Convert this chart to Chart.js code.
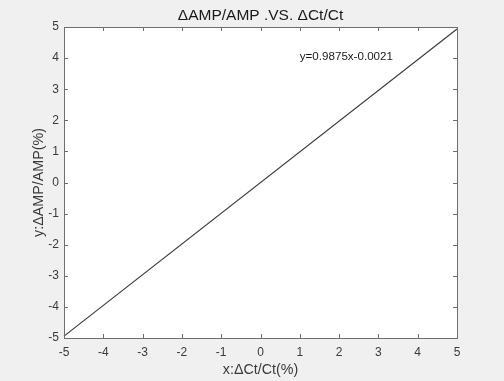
<!DOCTYPE html>
<html>
<head>
<meta charset="utf-8">
<script src="https://cdn.jsdelivr.net/npm/chart.js@4/dist/chart.umd.min.js"></script>
<style>
  html, body { margin: 0; padding: 0; background: #f0f0f0; }
  #wrap { width: 504px; height: 381px; position: relative; }
</style>
</head>
<body>
<div id="wrap"><canvas id="fitChart"></canvas></div>
<script>
/* ------------------------------------------------------------
   DATA
   ------------------------------------------------------------ */
const fitX = [-5, 5];                 // x:ΔCt/Ct(%)
const fitY = [-4.9396, 4.9354];       // y = 0.9875x - 0.0021 at the ends
const axisMin = -5;
const axisMax = 5;
const tickValues = [-5, -4, -3, -2, -1, 0, 1, 2, 3, 4, 5];
const titleText = 'ΔAMP/AMP .VS. ΔCt/Ct';
const xTitle = 'x:ΔCt/Ct(%)';
const yTitle = 'y:ΔAMP/AMP(%)';
const fitLabel = 'y=0.9875x-0.0021';
const fitLabelPos = [1, 4];           // data coords of the equation text

const FONT = 'Liberation Sans, Arial, Helvetica, sans-serif';
const TEXT_COLOR = '#3a3a3a';
const AXIS_COLOR = '#6e6e6e';

/* ------------------------------------------------------------
   MATLAB-style box: grey figure, white axes, inward ticks
   ------------------------------------------------------------ */
const matlabAxes = {
    id: 'matlabAxes',
    afterLayout(chart) {
        // centre the title over the plot box, not the whole canvas
        if (chart.titleBlock) {
            chart.titleBlock.left = chart.chartArea.left;
            chart.titleBlock.right = chart.chartArea.right;
        }
    },
    beforeDraw(chart) {
        const { ctx, chartArea: a } = chart;
        ctx.save();
        ctx.fillStyle = '#f0f0f0';
        ctx.fillRect(0, 0, chart.width, chart.height);
        ctx.fillStyle = '#ffffff';
        ctx.fillRect(a.left, a.top, a.right - a.left, a.bottom - a.top);
        ctx.restore();
    },
    afterDraw(chart) {
        const { ctx, chartArea: a, scales } = chart;
        const tl = 4;
        ctx.save();
        ctx.strokeStyle = AXIS_COLOR;
        ctx.lineWidth = 1;

        // box
        ctx.strokeRect(Math.round(a.left) + 0.5, Math.round(a.top) + 0.5,
                       Math.round(a.right - a.left), Math.round(a.bottom - a.top));

        // inward ticks on all four sides
        ctx.beginPath();
        scales.x.ticks.forEach(t => {
            const px = Math.round(scales.x.getPixelForValue(t.value)) + 0.5;
            ctx.moveTo(px, a.bottom); ctx.lineTo(px, a.bottom - tl);
            ctx.moveTo(px, a.top);    ctx.lineTo(px, a.top + tl);
        });
        scales.y.ticks.forEach(t => {
            const py = Math.round(scales.y.getPixelForValue(t.value)) + 0.5;
            ctx.moveTo(a.left, py);  ctx.lineTo(a.left + tl, py);
            ctx.moveTo(a.right, py); ctx.lineTo(a.right - tl, py);
        });
        ctx.stroke();

        // fit equation text
        ctx.fillStyle = '#1a1a1a';
        ctx.font = '11.6px ' + FONT;
        ctx.textAlign = 'left';
        ctx.textBaseline = 'middle';
        ctx.fillText(fitLabel,
                     scales.x.getPixelForValue(fitLabelPos[0]),
                     scales.y.getPixelForValue(fitLabelPos[1]) - 1);
        ctx.restore();
    }
};

/* ------------------------------------------------------------
   CHART
   ------------------------------------------------------------ */
const points = fitX.map((x, i) => ({ x: x, y: fitY[i] }));

new Chart(document.getElementById('fitChart'), {
    type: 'scatter',
    data: {
        datasets: [{
            data: points,
            showLine: true,
            borderColor: '#3c3c3c',
            borderWidth: 1.2,
            pointRadius: 0,
            pointHoverRadius: 0,
            clip: false
        }]
    },
    options: {
        responsive: true,
        maintainAspectRatio: false,
        animation: false,
        events: [],
        layout: { padding: { left: 0, right: 47, top: 0, bottom: 0 } },
        plugins: {
            legend: { display: false },
            tooltip: { enabled: false },
            title: {
                display: true,
                text: titleText,
                color: '#1a1a1a',
                font: { family: FONT, size: 15.5, weight: 'normal' },
                padding: { top: 6, bottom: 2.4 }
            }
        },
        scales: {
            x: {
                type: 'linear',
                min: axisMin,
                max: axisMax,
                afterBuildTicks: s => { s.ticks = tickValues.map(v => ({ value: v })); },
                afterFit: s => { s.height = 43; },
                grid: { display: false, drawTicks: false },
                border: { display: false },
                ticks: {
                    color: TEXT_COLOR,
                    font: { family: FONT, size: 12 },
                    padding: 7,
                    maxRotation: 0
                },
                title: {
                    display: true,
                    text: xTitle,
                    color: TEXT_COLOR,
                    font: { family: FONT, size: 14.3 },
                    padding: { top: 0, bottom: 2.5 }
                }
            },
            y: {
                type: 'linear',
                min: axisMin,
                max: axisMax,
                afterBuildTicks: s => { s.ticks = tickValues.map(v => ({ value: v })); },
                afterFit: s => { s.width = 64; },
                grid: { display: false, drawTicks: false },
                border: { display: false },
                ticks: {
                    color: TEXT_COLOR,
                    font: { family: FONT, size: 12 },
                    padding: 5
                },
                title: {
                    display: true,
                    text: yTitle,
                    color: TEXT_COLOR,
                    font: { family: FONT, size: 14.3 },
                    padding: { top: 30.4, bottom: 0 }
                }
            }
        }
    },
    plugins: [matlabAxes]
});
</script>
</body>
</html>
